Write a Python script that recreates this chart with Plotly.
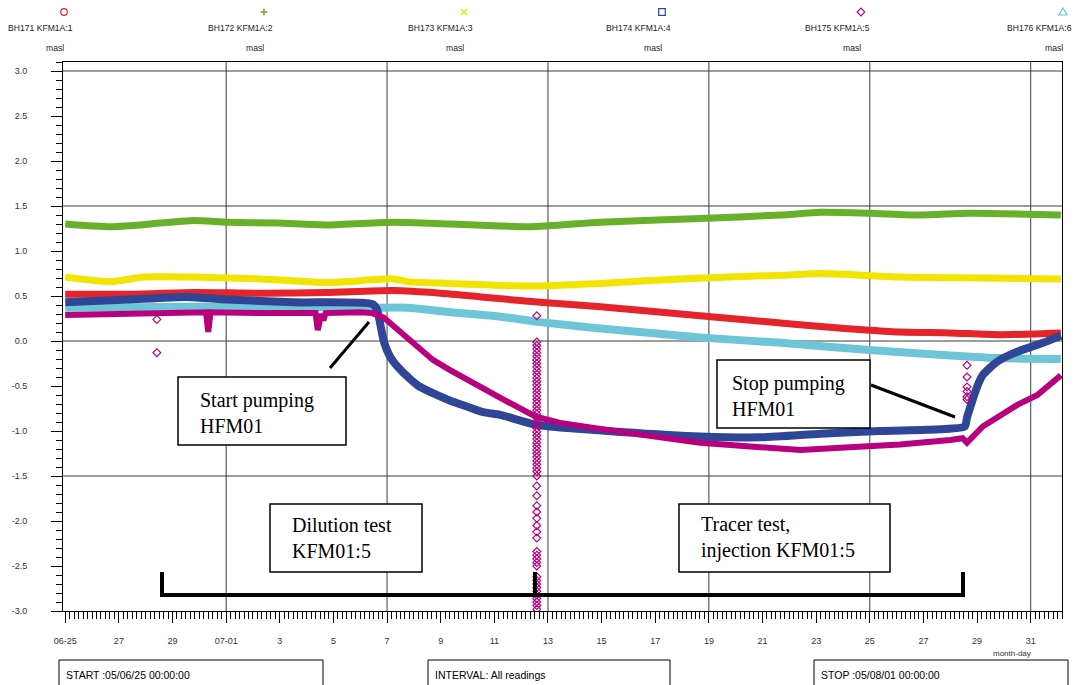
import plotly.graph_objects as go

W, H = 1074, 685

# ---------------- data ----------------
bh171_t = ["2005-06-25 00:00", "2005-06-27 08:00", "2005-06-29 19:00", "2005-07-02 07:00", "2005-07-04 19:00",
           "2005-07-07 06:00", "2005-07-09 00:00", "2005-07-10 12:00", "2005-07-12 17:00", "2005-07-14 23:00",
           "2005-07-18 16:00", "2005-07-21 16:00", "2005-07-23 04:00", "2005-07-25 00:00", "2005-07-26 03:00",
           "2005-07-28 00:00", "2005-07-29 20:00", "2005-08-01 03:00"]
bh171_v = [0.52, 0.52, 0.54, 0.53, 0.54, 0.56, 0.53, 0.49, 0.43, 0.38, 0.28, 0.20, 0.16, 0.12, 0.10, 0.09, 0.07, 0.09]

bh172_t = ["2005-06-25 00:00", "2005-06-26 17:00", "2005-06-28 13:00", "2005-06-29 19:00", "2005-07-01 01:00",
           "2005-07-02 22:00", "2005-07-04 19:00", "2005-07-07 06:00", "2005-07-09 09:00", "2005-07-12 08:00",
           "2005-07-14 23:00", "2005-07-18 16:00", "2005-07-21 16:00", "2005-07-23 04:00", "2005-07-25 00:00",
           "2005-07-26 21:00", "2005-07-28 18:00", "2005-08-01 03:00"]
bh172_v = [1.30, 1.27, 1.31, 1.34, 1.32, 1.31, 1.29, 1.32, 1.30, 1.27, 1.32, 1.36, 1.40, 1.43, 1.42, 1.40, 1.42, 1.40]

bh173_t = ["2005-06-25 00:00", "2005-06-26 17:00", "2005-06-27 22:00", "2005-06-29 19:00", "2005-07-02 07:00",
           "2005-07-04 19:00", "2005-07-07 06:00", "2005-07-07 18:00", "2005-07-09 09:00", "2005-07-12 08:00",
           "2005-07-14 23:00", "2005-07-17 22:00", "2005-07-21 16:00", "2005-07-23 04:00", "2005-07-26 03:00",
           "2005-07-29 05:00", "2005-08-01 03:00"]
bh173_v = [0.71, 0.66, 0.71, 0.71, 0.69, 0.65, 0.69, 0.66, 0.64, 0.61, 0.64, 0.69, 0.73, 0.75, 0.71, 0.70, 0.69]

bh174_t = ["2005-06-25 00:00", "2005-06-27 08:00", "2005-06-29 13:00", "2005-07-01 01:00", "2005-07-03 12:00",
           "2005-07-06 11:00", "2005-07-06 15:00", "2005-07-06 21:00", "2005-07-07 03:00", "2005-07-07 12:00",
           "2005-07-08 03:00", "2005-07-08 17:00", "2005-07-09 08:00", "2005-07-10 00:00", "2005-07-10 14:00",
           "2005-07-11 05:00", "2005-07-12 13:00", "2005-07-13 11:00", "2005-07-15 17:00", "2005-07-18 16:00",
           "2005-07-20 22:00", "2005-07-23 04:00", "2005-07-25 09:00", "2005-07-27 15:00", "2005-07-28 13:00",
           "2005-07-28 15:00", "2005-07-28 18:00", "2005-07-29 00:00", "2005-07-29 05:00", "2005-07-29 18:00",
           "2005-07-30 12:00", "2005-07-31 11:00", "2005-08-01 03:00"]
bh174_v = [0.43, 0.46, 0.49, 0.46, 0.43, 0.41, 0.35, 0.00, -0.18, -0.32, -0.49, -0.58, -0.66, -0.73, -0.79,
           -0.82, -0.93, -0.96, -1.01, -1.06, -1.07, -1.03, -1.00, -0.98, -0.95, -0.85, -0.73, -0.51, -0.38,
           -0.23, -0.12, -0.02, 0.06]

bh175_t = ["2005-06-25 00:00", "2005-06-27 08:00", "2005-06-29 13:00", "2005-06-30 06:00", "2005-06-30 08:00",
           "2005-06-30 10:00", "2005-07-02 07:00", "2005-07-04 08:00", "2005-07-04 10:00", "2005-07-04 13:00",
           "2005-07-04 15:00", "2005-07-04 17:00", "2005-07-06 00:00", "2005-07-06 11:00", "2005-07-06 21:00",
           "2005-07-07 12:00", "2005-07-08 03:00", "2005-07-08 17:00", "2005-07-09 08:00", "2005-07-10 00:00",
           "2005-07-10 14:00", "2005-07-11 05:00", "2005-07-12 13:00", "2005-07-13 11:00", "2005-07-15 17:00",
           "2005-07-18 16:00", "2005-07-20 22:00", "2005-07-22 10:00", "2005-07-24 06:00", "2005-07-26 03:00",
           "2005-07-28 00:00", "2005-07-28 11:00", "2005-07-28 15:00", "2005-07-29 05:00", "2005-07-30 12:00",
           "2005-07-31 06:00", "2005-08-01 03:00"]
bh175_v = [0.29, 0.30, 0.32, 0.32, 0.10, 0.32, 0.31, 0.31, 0.12, 0.30, 0.23, 0.31, 0.32, 0.31, 0.26,
           0.10, -0.07, -0.21, -0.32, -0.43, -0.54, -0.63, -0.84, -0.91, -1.01, -1.13, -1.18, -1.21, -1.18,
           -1.15, -1.10, -1.08, -1.13, -0.95, -0.71, -0.60, -0.38]

bh176_t = ["2005-06-25 00:00", "2005-06-29 13:00", "2005-07-03 12:00", "2005-07-06 11:00", "2005-07-07 18:00",
           "2005-07-09 09:00", "2005-07-11 06:00", "2005-07-12 17:00", "2005-07-14 23:00", "2005-07-18 16:00",
           "2005-07-21 16:00", "2005-07-25 00:00", "2005-07-28 00:00", "2005-07-29 20:00", "2005-08-01 03:00"]
bh176_v = [0.37, 0.38, 0.38, 0.37, 0.37, 0.32, 0.27, 0.21, 0.14, 0.04, -0.02, -0.10, -0.16, -0.19, -0.20]

# scattered single readings of BH175 (diamonds)
spike_t = "2005-07-12 14:00"
spike_v = [0.28, -0.01, -0.05, -0.09, -0.13, -0.17, -0.21, -0.25, -0.29, -0.33, -0.37, -0.41, -0.45, -0.49,
           -0.53, -0.57, -0.61, -0.65, -0.69, -0.73, -0.77, -0.81, -0.85, -0.89, -0.93, -0.97, -1.01, -1.05,
           -1.09, -1.13, -1.17, -1.21, -1.25, -1.29, -1.33, -1.37, -1.41, -1.45, -1.50, -1.61, -1.72, -1.83,
           -1.90, -1.97, -2.05, -2.12, -2.19, -2.34, -2.38, -2.42, -2.46, -2.50, -2.62, -2.66, -2.70, -2.74,
           -2.78, -2.82, -2.86, -2.90, -2.94, -2.98]
stop_t = "2005-07-28 15:00"
stop_v = [-0.27, -0.40, -0.51, -0.56, -0.62, -0.65]
early_t = "2005-06-28 10:00"
early_v = [0.24, -0.13]

names = ["BH171 KFM1A:1", "BH172 KFM1A:2", "BH173 KFM1A:3", "BH174 KFM1A:4", "BH175 KFM1A:5", "BH176 KFM1A:6"]
colors = ["#E4232A", "#69B02A", "#F0E400", "#2F4596", "#B8007E", "#6EC5D8"]

x_tickvals = ["2005-06-25", "2005-06-27", "2005-06-29", "2005-07-01", "2005-07-03", "2005-07-05", "2005-07-07",
              "2005-07-09", "2005-07-11", "2005-07-13", "2005-07-15", "2005-07-17", "2005-07-19", "2005-07-21",
              "2005-07-23", "2005-07-25", "2005-07-27", "2005-07-29", "2005-07-31"]
x_ticktext = ["06-25", "27", "29", "07-01", "3", "5", "7", "9", "11", "13", "15", "17", "19", "21", "23", "25",
              "27", "29", "31"]
y_tickvals = [-3.0, -2.5, -2.0, -1.5, -1.0, -0.5, 0.0, 0.5, 1.0, 1.5, 2.0, 2.5, 3.0]
y_ticktext = ["-3.0", "-2.5", "-2.0", "-1.5", "-1.0", "-0.5", "0.0", "0.5", "1.0", "1.5", "2.0", "2.5", "3.0"]
x_grid = ["2005-07-01", "2005-07-07", "2005-07-13", "2005-07-19", "2005-07-25", "2005-07-31"]
y_grid = [3.0, 1.5, 0.0, -1.5]

# ---------------- figure ----------------
def px(x):
    return x / W


def py(y):
    return (H - y) / H


fig = go.Figure()
# (times, values, width, smooth)
series = [(bh171_t, bh171_v, 7, True), (bh172_t, bh172_v, 7, True), (bh173_t, bh173_v, 7, True),
          (bh176_t, bh176_v, 8, True), (bh174_t, bh174_v, 8, True), (bh175_t, bh175_v, 6, False)]
order = [0, 1, 2, 5, 3, 4]
for (t, v, w, sm), idx in zip(series, order):
    line = dict(color=colors[idx], width=w)
    if sm:
        line.update(shape="spline", smoothing=0.6)
    fig.add_trace(go.Scatter(x=t, y=v, mode="lines", name=names[idx], line=line, showlegend=False))

diamond = dict(symbol="diamond-open", size=6, color=colors[4], line=dict(width=1.2, color=colors[4]))
fig.add_trace(go.Scatter(x=[spike_t] * len(spike_v), y=spike_v, mode="markers", marker=diamond, showlegend=False))
fig.add_trace(go.Scatter(x=[stop_t] * len(stop_v), y=stop_v, mode="markers", marker=diamond, showlegend=False))
fig.add_trace(go.Scatter(x=[early_t] * len(early_v), y=early_v, mode="markers", marker=diamond, showlegend=False))

shapes = []
grid_col = "#3c3c3c"
for g in x_grid:
    shapes.append(dict(type="line", xref="x", yref="y domain", x0=g, x1=g, y0=0, y1=1,
                       line=dict(color=grid_col, width=1), layer="below"))
for g in y_grid:
    shapes.append(dict(type="line", xref="x domain", yref="y", x0=0, x1=1, y0=g, y1=g,
                       line=dict(color=grid_col, width=1), layer="below"))


def pline(x0, y0, x1, y1, w, color="black"):
    shapes.append(dict(type="line", xref="paper", yref="paper", x0=px(x0), y0=py(y0), x1=px(x1), y1=py(y1),
                       line=dict(color=color, width=w)))


def prect(x0, y0, x1, y1, w, fill="white"):
    shapes.append(dict(type="rect", xref="paper", yref="paper", x0=px(x0), y0=py(y0), x1=px(x1), y1=py(y1),
                       line=dict(color="black", width=w), fillcolor=fill))


# legend symbols at top
mx = [64, 264, 464, 662, 861, 1063]
my = 12
r = 3.3
shapes.append(dict(type="circle", xref="paper", yref="paper", x0=px(mx[0] - r), x1=px(mx[0] + r),
                   y0=py(my + r), y1=py(my - r), line=dict(color=colors[0], width=1.2)))
pline(mx[1] - r, my, mx[1] + r, my, 1.6, colors[1])
pline(mx[1], my - r, mx[1], my + r, 1.6, colors[1])
pline(mx[2] - 3, my - 3, mx[2] + 3, my + 3, 1.4, colors[2])
pline(mx[2] - 3, my + 3, mx[2] + 3, my - 3, 1.4, colors[2])
shapes.append(dict(type="rect", xref="paper", yref="paper", x0=px(mx[3] - r), x1=px(mx[3] + r),
                   y0=py(my + r), y1=py(my - r), line=dict(color=colors[3], width=1.2)))
d = 3.8
shapes.append(dict(type="path", xref="paper", yref="paper",
                   path=f"M {px(mx[4])} {py(my - d)} L {px(mx[4] + d)} {py(my)} L {px(mx[4])} {py(my + d)} "
                        f"L {px(mx[4] - d)} {py(my)} Z", line=dict(color=colors[4], width=1.2)))
shapes.append(dict(type="path", xref="paper", yref="paper",
                   path=f"M {px(mx[5])} {py(my - 4)} L {px(mx[5] + 4)} {py(my + 3)} L {px(mx[5] - 4)} {py(my + 3)} Z",
                   line=dict(color=colors[5], width=1.2)))

# text boxes in the plot
prect(178, 377, 346, 445, 1.5)
prect(717, 360, 870, 428, 1.5)
prect(270, 504, 422, 572, 1.5)
prect(679, 504, 890, 572, 1.5)
# pointer lines
pline(330, 368, 369, 322, 3)
pline(871, 385, 955, 417, 3)
# bracket
pline(160, 595, 965, 595, 4)
pline(162, 572, 162, 597, 4)
pline(535, 572, 535, 597, 4)
pline(963, 572, 963, 597, 4)
# bottom info boxes
prect(59, 660, 323, 700, 1)
prect(428, 660, 670, 700, 1)
prect(814, 660, 1068, 700, 1)

fig.update_layout(shapes=shapes)

ann = []
serif = dict(family="Liberation Serif, Times New Roman, serif", size=20, color="black")
sans = "Liberation Sans, Arial, sans-serif"


def ptext(x, y, text, font, xanchor="left", yanchor="middle", align="left"):
    ann.append(dict(xref="paper", yref="paper", x=px(x), y=py(y), text=text, showarrow=False, font=font,
                    xanchor=xanchor, yanchor=yanchor, align=align))


ptext(198, 413, "Start pumping<br>HFM01", serif)
ptext(730, 396, "Stop pumping<br>HFM01", serif)
ptext(290, 538, "Dilution test<br>KFM01:5", serif)
ptext(699, 537, "Tracer test,<br>injection KFM01:5", serif)

small = dict(family=sans, size=10.5, color="black")
ptext(64, 675, "START :05/06/25 00:00:00", small)
ptext(433, 675, "INTERVAL: All readings", small)
ptext(819, 675, "STOP :05/08/01 00:00:00", small)
ptext(1012, 653, "month-day", dict(family=sans, size=8, color="#333"), xanchor="center")

for i, n in enumerate(names):
    ptext(mx[i] + 11, 28, n, dict(family=sans, size=8.6, color="#222"), xanchor="right")
    ptext(mx[i] + 2, 48, "masl", dict(family=sans, size=8.6, color="#222"), xanchor="right")

fig.update_layout(annotations=ann)

fig.update_layout(
    width=W, height=H, autosize=False,
    margin=dict(l=0, r=0, t=0, b=0),
    paper_bgcolor="white", plot_bgcolor="white",
    showlegend=False,
    xaxis=dict(domain=[px(63), px(1062)], range=["2005-06-24 22:00", "2005-08-01 04:00"], type="date",
               tickmode="array", tickvals=x_tickvals, ticktext=x_ticktext,
               ticks="outside", ticklen=11, tickwidth=1, tickcolor="black",
               showgrid=False, zeroline=False, showline=True, linecolor="black", linewidth=1, mirror=True,
               tickfont=dict(family=sans, size=9, color="#333"), ticklabelstandoff=10, automargin=False,
               minor=dict(tickmode="linear", tick0="2005-06-25", dtick=4 * 3600 * 1000, ticks="outside",
                          ticklen=7, tickcolor="black", tickwidth=1, showgrid=False)),
    yaxis=dict(domain=[py(611), py(62)], range=[-3.0, 3.1],
               tickmode="array", tickvals=y_tickvals, ticktext=y_ticktext,
               ticks="outside", ticklen=11, tickwidth=1, tickcolor="black",
               showgrid=False, zeroline=False, showline=True, linecolor="black", linewidth=1, mirror=True,
               tickfont=dict(family=sans, size=9, color="#333"), ticklabelstandoff=22, automargin=False,
               minor=dict(tickmode="linear", tick0=0, dtick=0.1, ticks="outside", ticklen=6,
                          tickcolor="black", tickwidth=1, showgrid=False)),
)

fig.write_html("out.html")
